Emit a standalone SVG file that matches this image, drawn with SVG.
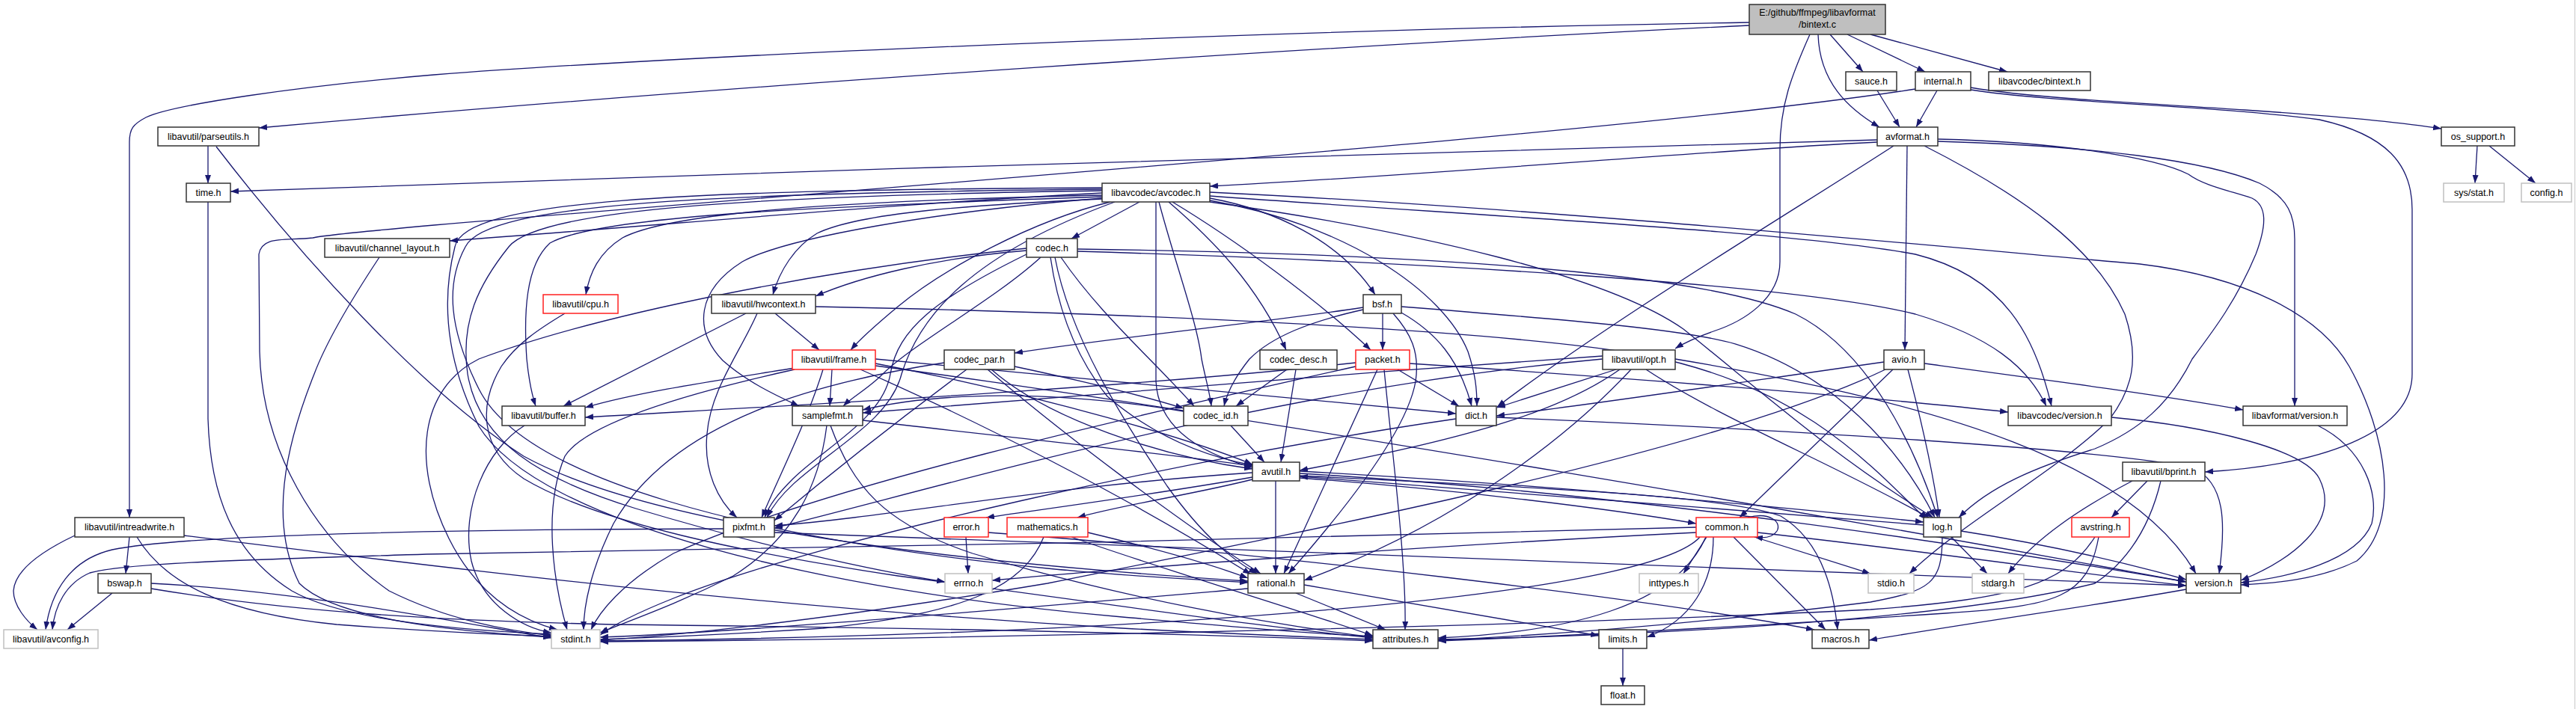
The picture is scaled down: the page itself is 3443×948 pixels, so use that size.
<svg xmlns="http://www.w3.org/2000/svg" width="3443" height="948" viewBox="0 0 3443 948">
<style>
.n rect{fill:#fff;stroke:#333;stroke-width:1.5}
.n.red rect{stroke:#ff2020}
.n.gray rect{stroke:#c0c0c0}
.n.root rect{fill:#bfbfbf}
text{font-family:"Liberation Sans",Arial,sans-serif;font-size:12.5px;text-anchor:middle;fill:#000}
#edges path{fill:none;stroke:#191970;stroke-width:1.3;marker-end:url(#a)}
</style>
<defs><marker id="a" markerUnits="userSpaceOnUse" markerWidth="12" markerHeight="9" refX="11" refY="4" orient="auto"><path d="M0,0 L11,4 L0,8 z" fill="#191970"/></marker></defs>
<rect width="3443" height="948" fill="#fff"/>
<line x1="3441.5" y1="0" x2="3441.5" y2="948" stroke="#c8c8c8"/>
<g id="edges">
<path d="M2338,30 C1700,40 900,75 580,100 C400,115 230,140 195,157 C178,166 173,172 173,190 L173,692"/>
<path d="M2338,34 C1800,60 1000,112 346,171"/>
<path d="M2419,46 C2395,100 2379,140 2379,200 L2379,350 C2379,400 2330,430 2290,443 C2270,450 2252,458 2239,466"/>
<path d="M2430,46 C2432,110 2470,145 2512,170"/>
<path d="M2446,46 L2490,96"/>
<path d="M2469,46 L2573,96"/>
<path d="M2500,46 L2683,96"/>
<path d="M2509,121 L2539,170"/>
<path d="M2589,121 L2561,170"/>
<path d="M2634,117 C2720,132 2900,140 3000,147 C3120,155 3200,162 3263,172"/>
<path d="M2634,120 C2750,138 2950,140 3100,160 C3190,180 3224,220 3224,280 L3224,500 C3224,580 3100,622 2947,631"/>
<path d="M2560,119 C2200,175 1300,240 580,301 C480,310 430,315 418,318 C380,322 350,315 346,340 L347,470 C350,600 420,720 520,790 C600,830 680,843 737,850"/>
<path d="M278,195 L278,245"/>
<path d="M289,196 C400,340 560,520 700,610 C900,720 1400,760 1668,777"/>
<path d="M278,270 L278,560 C281,660 310,740 390,790 C460,830 620,843 737,848"/>
<path d="M2509,187 C2000,200 1000,230 308,256"/>
<path d="M2509,190 C2300,200 1900,235 1617,249"/>
<path d="M2549,195 L2546,468"/>
<path d="M2531,195 C2400,280 2150,430 2001,544"/>
<path d="M2572,195 C2700,260 2800,330 2840,420 C2860,480 2850,520 2820,560 C2750,630 2620,700 2552,767"/>
<path d="M2590,186 C2750,190 2880,210 2925,233 C2945,248 2980,255 3010,265 C3030,275 3030,300 3015,340 C2990,400 2960,440 2930,480 C2900,540 2860,575 2800,600 C2720,625 2660,650 2618,692"/>
<path d="M2590,189 C2800,195 2950,215 3020,245 C3060,265 3067,290 3067,320 L3067,543"/>
<path d="M3311,195 L3308,245"/>
<path d="M3327,195 L3389,245"/>
<path d="M1473,258 C1200,272 900,300 601,322"/>
<path d="M1473,261 C1150,268 900,282 832,318 C800,338 788,365 783,394"/>
<path d="M1473,266 C1300,274 1150,284 1092,312 C1062,330 1042,362 1033,394"/>
<path d="M1484,270 C1380,295 1260,360 1200,410 C1170,435 1148,455 1137,468"/>
<path d="M1473,263 C1100,276 800,288 735,325 C702,355 700,420 704,480 C707,510 711,528 716,543"/>
<path d="M1473,265 C1250,283 1050,318 992,350 C932,388 926,440 966,482 C1000,512 1040,530 1068,543"/>
<path d="M1490,270 C1300,340 1230,420 1205,500 C1185,580 1060,620 1025,692"/>
<path d="M1523,270 L1432,319"/>
<path d="M1545,270 L1545,510 C1548,570 1600,605 1674,625"/>
<path d="M1549,270 C1570,350 1600,430 1606,480 C1612,510 1617,525 1619,543"/>
<path d="M1562,270 C1620,320 1680,380 1719,468"/>
<path d="M1567,270 C1650,320 1760,400 1832,468"/>
<path d="M1617,265 C1700,280 1790,320 1838,394"/>
<path d="M1617,268 C1800,300 1930,390 1962,470 C1972,500 1974,520 1974,543"/>
<path d="M1617,270 C1900,310 2150,370 2250,440 C2350,520 2450,610 2584,692"/>
<path d="M1617,262 C2000,290 2400,310 2560,340 C2680,370 2720,450 2742,543"/>
<path d="M1617,257 C2100,280 2700,340 2860,353 C3000,370 3100,420 3140,490 C3190,580 3210,700 3150,750 C3100,775 3040,780 2995,782"/>
<path d="M1473,255 C1000,262 720,280 680,330 C640,380 615,430 625,500 C640,590 720,640 850,680 C1000,725 1150,760 1263,778"/>
<path d="M1473,253 C950,258 650,272 622,330 C595,380 600,440 640,520 C700,640 1000,720 1400,760 C1500,770 1600,775 1668,779"/>
<path d="M1473,251 C900,254 620,268 608,330 C590,400 595,480 640,570 C720,700 1100,790 1500,825 C1650,838 1760,848 1835,851"/>
<path d="M507,344 C470,400 435,460 420,500 C380,600 360,700 400,780 C450,830 620,845 737,852"/>
<path d="M1372,335 C1250,345 1150,370 1090,396"/>
<path d="M1372,332 C1100,360 800,420 640,480 C560,520 550,620 600,720 C640,800 700,830 745,842"/>
<path d="M1372,340 C1250,400 1200,440 1190,500 C1180,560 1100,600 1060,640 C1040,660 1028,675 1022,692"/>
<path d="M1391,344 C1330,400 1220,460 1180,500 C1160,520 1140,530 1127,543"/>
<path d="M1404,344 C1415,420 1440,480 1480,530 C1550,590 1620,612 1674,622"/>
<path d="M1410,344 C1430,450 1500,560 1560,650 C1610,720 1650,750 1680,767"/>
<path d="M1418,344 C1470,420 1540,480 1596,543"/>
<path d="M1440,333 C1800,338 2250,355 2400,420 C2500,470 2560,600 2590,692"/>
<path d="M1440,336 C1900,350 2400,380 2560,420 C2660,450 2710,490 2735,543"/>
<path d="M755,419 C720,440 690,460 670,490 C640,540 640,600 700,640 C800,700 1000,740 1200,770 C1500,810 1700,840 1835,853"/>
<path d="M997,419 L753,543"/>
<path d="M1036,419 L1095,468"/>
<path d="M1012,419 C990,470 950,520 945,580 C940,630 960,670 985,692"/>
<path d="M1090,410 C1500,418 2000,440 2200,475 C2400,515 2490,610 2575,695"/>
<path d="M1848,419 L1848,468"/>
<path d="M1822,411 C1700,430 1500,450 1356,472"/>
<path d="M1822,414 C1750,430 1700,450 1670,480 C1650,505 1640,525 1636,543"/>
<path d="M1873,418 C1920,445 1950,480 1967,543"/>
<path d="M1862,419 C1885,445 1898,470 1892,510 C1880,580 1790,690 1722,767"/>
<path d="M1873,410 C2100,428 2250,440 2320,460 C2450,500 2540,600 2586,692"/>
<path d="M1062,492 C950,510 850,525 782,545"/>
<path d="M1062,494 C900,530 780,570 755,610 C725,680 740,780 758,842"/>
<path d="M1112,494 L1109,543"/>
<path d="M1100,494 C1080,560 1040,640 1018,692"/>
<path d="M1170,486 C1400,530 1600,590 1674,621"/>
<path d="M1170,480 C1500,510 1800,540 1946,553"/>
<path d="M1150,494 C1300,560 1500,660 1672,768"/>
<path d="M1170,489 C1700,560 2500,700 2922,778"/>
<path d="M1356,490 C1450,510 1530,530 1582,546"/>
<path d="M1325,494 C1400,560 1550,610 1674,627"/>
<path d="M1320,494 C1420,580 1580,700 1685,767"/>
<path d="M1292,494 C1230,540 1150,600 1035,696"/>
<path d="M1262,485 C1100,510 900,560 820,700 C790,760 780,810 780,842"/>
<path d="M1720,494 L1652,543"/>
<path d="M1732,494 L1712,618"/>
<path d="M1868,494 L1950,543"/>
<path d="M1850,494 C1860,600 1880,750 1878,842"/>
<path d="M1841,494 L1716,767"/>
<path d="M1812,485 C1500,520 1000,545 782,558"/>
<path d="M1812,490 C1500,560 1100,650 900,740 C830,780 800,820 790,842"/>
<path d="M1884,486 C2100,500 2500,530 2684,551"/>
<path d="M2160,494 L2001,545"/>
<path d="M2165,494 C2100,540 2000,580 1737,629"/>
<path d="M2180,494 C2100,580 1950,700 1743,776"/>
<path d="M2142,480 C1700,520 1300,640 1035,706"/>
<path d="M2142,476 C1800,500 1400,530 1153,552"/>
<path d="M2200,494 C2300,560 2450,620 2578,692"/>
<path d="M2239,480 C2600,540 2850,620 2935,767"/>
<path d="M2530,494 L2325,692"/>
<path d="M2518,484 C2300,515 2100,545 2000,556"/>
<path d="M2550,494 C2570,570 2585,640 2592,692"/>
<path d="M2572,486 C2750,510 2900,530 2998,548"/>
<path d="M2520,494 C2300,600 1800,700 1400,780 C1100,830 900,850 802,856"/>
<path d="M701,569 C650,600 615,680 630,750 C645,810 700,840 737,846"/>
<path d="M1105,569 C1095,650 1060,720 980,770 C900,810 840,830 802,846"/>
<path d="M1153,562 C1350,585 1550,605 1674,623"/>
<path d="M1110,569 C1140,650 1180,700 1300,740 C1500,800 1700,835 1835,852"/>
<path d="M1645,569 L1690,618"/>
<path d="M1582,550 C1400,520 1250,525 1153,548"/>
<path d="M1946,560 C1600,610 1100,720 900,800 C850,820 820,835 802,849"/>
<path d="M2000,558 C2400,575 2800,600 2930,625 C2975,645 2975,700 2966,767"/>
<path d="M2822,558 C2950,570 3080,600 3100,640 C3130,700 3060,750 2995,776"/>
<path d="M3098,569 C3160,600 3180,660 3170,700 C3150,750 3060,772 2995,779"/>
<path d="M1737,639 C1950,655 2150,680 2267,700"/>
<path d="M1674,638 C1550,660 1400,680 1318,692"/>
<path d="M1674,641 C1600,660 1500,675 1440,692"/>
<path d="M1705,643 L1705,767"/>
<path d="M1737,633 C2200,660 2700,740 2922,778"/>
<path d="M1737,636 C2000,650 2300,660 2380,690 C2430,720 2450,780 2456,842"/>
<path d="M1737,630 C2100,650 2400,680 2571,698"/>
<path d="M1674,632 C1400,650 1200,690 1035,703"/>
<path d="M2870,643 L2822,692"/>
<path d="M2850,643 C2780,680 2720,720 2684,767"/>
<path d="M2888,643 C2870,720 2830,760 2800,780 C2600,830 2200,850 1922,855"/>
<path d="M173,718 L168,767"/>
<path d="M100,716 C60,735 20,760 18,790 C18,810 35,830 50,842"/>
<path d="M183,718 C220,780 300,820 450,835 C580,845 680,849 737,851"/>
<path d="M246,716 C600,760 1000,810 1500,840 C1650,848 1760,852 1835,855"/>
<path d="M967,707 C600,708 250,715 150,735 C95,748 68,790 61,842"/>
<path d="M1035,712 C1600,730 2500,770 2922,783"/>
<path d="M1291,718 L1294,767"/>
<path d="M1321,712 C1700,740 2200,800 2425,842"/>
<path d="M1395,718 C1370,780 1300,820 1100,840 C950,850 850,853 802,855"/>
<path d="M1432,718 C1550,760 1750,820 1835,850"/>
<path d="M1454,712 C1550,735 1620,755 1668,773"/>
<path d="M2336,692 C2365,684 2382,698 2375,710 C2370,718 2358,720 2345,718"/>
<path d="M2267,712 C1900,730 1500,760 1326,776"/>
<path d="M2281,718 L2250,767"/>
<path d="M2345,718 L2500,767"/>
<path d="M2290,718 C2290,780 2260,830 2201,852"/>
<path d="M2272,718 C2200,800 1500,850 802,857"/>
<path d="M2280,718 C2240,810 2100,845 1922,853"/>
<path d="M2317,718 L2440,842"/>
<path d="M2349,712 C2600,740 2800,770 2922,783"/>
<path d="M2267,705 C1800,720 1000,735 570,741 C350,748 170,752 120,766 C88,780 73,810 70,842"/>
<path d="M2571,702 C2300,680 1900,650 1737,637"/>
<path d="M2596,718 C2596,780 2580,790 2500,805 C2300,830 2100,848 1922,856"/>
<path d="M2621,710 C2750,730 2850,755 2922,775"/>
<path d="M2608,718 L2656,767"/>
<path d="M2800,718 C2760,780 2700,800 2500,815 C2000,840 1200,855 802,858"/>
<path d="M2805,718 C2790,800 2750,810 2600,820 C2300,840 2100,850 1922,857"/>
<path d="M150,793 L90,842"/>
<path d="M202,780 C400,790 600,830 737,853"/>
<path d="M202,787 C400,820 600,830 820,835 C1300,840 1600,848 1835,857"/>
<path d="M1668,787 C1400,810 1000,845 802,852"/>
<path d="M1743,782 C1900,810 2050,835 2137,850"/>
<path d="M1732,793 L1852,842"/>
<path d="M2922,788 C2800,810 2650,830 2498,856"/>
<path d="M2169,867 L2169,917"/>
</g>
<g id="n_bintext" class="n root"><rect x="2338" y="6" width="182" height="40"/><text x="2429" y="21">E:/github/ffmpeg/libavformat</text><text x="2429" y="37">/bintext.c</text></g>
<g id="n_sauce" class="n"><rect x="2467" y="96" width="68" height="25"/><text x="2501" y="113">sauce.h</text></g>
<g id="n_internal" class="n"><rect x="2560" y="96" width="74" height="25"/><text x="2597" y="113">internal.h</text></g>
<g id="n_bintexth" class="n"><rect x="2658" y="96" width="136" height="25"/><text x="2726" y="113">libavcodec/bintext.h</text></g>
<g id="n_parseutils" class="n"><rect x="211" y="170" width="135" height="25"/><text x="278.5" y="187">libavutil/parseutils.h</text></g>
<g id="n_avformat" class="n"><rect x="2509" y="170" width="81" height="25"/><text x="2549.5" y="187">avformat.h</text></g>
<g id="n_os_support" class="n"><rect x="3263" y="170" width="98" height="25"/><text x="3312" y="187">os_support.h</text></g>
<g id="n_time" class="n"><rect x="249" y="245" width="59" height="25"/><text x="278.5" y="262">time.h</text></g>
<g id="n_avcodec" class="n"><rect x="1473" y="245" width="144" height="25"/><text x="1545" y="262">libavcodec/avcodec.h</text></g>
<g id="n_sysstat" class="n gray"><rect x="3266" y="245" width="81" height="25"/><text x="3306.5" y="262">sys/stat.h</text></g>
<g id="n_config" class="n gray"><rect x="3370" y="245" width="67" height="25"/><text x="3403.5" y="262">config.h</text></g>
<g id="n_channel_layout" class="n"><rect x="434" y="319" width="167" height="25"/><text x="517.5" y="336">libavutil/channel_layout.h</text></g>
<g id="n_codec" class="n"><rect x="1372" y="319" width="68" height="25"/><text x="1406" y="336">codec.h</text></g>
<g id="n_cpu" class="n red"><rect x="726" y="394" width="100" height="25"/><text x="776" y="411">libavutil/cpu.h</text></g>
<g id="n_hwcontext" class="n"><rect x="951" y="394" width="139" height="25"/><text x="1020.5" y="411">libavutil/hwcontext.h</text></g>
<g id="n_bsf" class="n"><rect x="1822" y="394" width="51" height="25"/><text x="1847.5" y="411">bsf.h</text></g>
<g id="n_frame" class="n red"><rect x="1059" y="468" width="111" height="26"/><text x="1114.5" y="485">libavutil/frame.h</text></g>
<g id="n_codec_par" class="n"><rect x="1262" y="468" width="94" height="26"/><text x="1309" y="485">codec_par.h</text></g>
<g id="n_codec_desc" class="n"><rect x="1684" y="468" width="103" height="26"/><text x="1735.5" y="485">codec_desc.h</text></g>
<g id="n_packet" class="n red"><rect x="1812" y="468" width="72" height="26"/><text x="1848" y="485">packet.h</text></g>
<g id="n_opt" class="n"><rect x="2142" y="468" width="97" height="26"/><text x="2190.5" y="485">libavutil/opt.h</text></g>
<g id="n_avio" class="n"><rect x="2518" y="468" width="54" height="26"/><text x="2545" y="485">avio.h</text></g>
<g id="n_buffer" class="n"><rect x="671" y="543" width="111" height="26"/><text x="726.5" y="560">libavutil/buffer.h</text></g>
<g id="n_samplefmt" class="n"><rect x="1059" y="543" width="94" height="26"/><text x="1106" y="560">samplefmt.h</text></g>
<g id="n_codec_id" class="n"><rect x="1582" y="543" width="86" height="26"/><text x="1625" y="560">codec_id.h</text></g>
<g id="n_dict" class="n"><rect x="1946" y="543" width="54" height="26"/><text x="1973" y="560">dict.h</text></g>
<g id="n_lavc_version" class="n"><rect x="2684" y="543" width="138" height="26"/><text x="2753" y="560">libavcodec/version.h</text></g>
<g id="n_lavf_version" class="n"><rect x="2998" y="543" width="139" height="26"/><text x="3067.5" y="560">libavformat/version.h</text></g>
<g id="n_avutil" class="n"><rect x="1674" y="618" width="63" height="25"/><text x="1705.5" y="635">avutil.h</text></g>
<g id="n_bprint" class="n"><rect x="2837" y="618" width="110" height="25"/><text x="2892" y="635">libavutil/bprint.h</text></g>
<g id="n_intreadwrite" class="n"><rect x="100" y="692" width="146" height="26"/><text x="173" y="709">libavutil/intreadwrite.h</text></g>
<g id="n_pixfmt" class="n"><rect x="967" y="692" width="68" height="26"/><text x="1001" y="709">pixfmt.h</text></g>
<g id="n_error" class="n red"><rect x="1262" y="692" width="59" height="26"/><text x="1291.5" y="709">error.h</text></g>
<g id="n_mathematics" class="n red"><rect x="1346" y="692" width="108" height="26"/><text x="1400" y="709">mathematics.h</text></g>
<g id="n_common" class="n red"><rect x="2267" y="692" width="82" height="26"/><text x="2308" y="709">common.h</text></g>
<g id="n_log" class="n"><rect x="2571" y="692" width="50" height="26"/><text x="2596" y="709">log.h</text></g>
<g id="n_avstring" class="n red"><rect x="2769" y="692" width="77" height="26"/><text x="2807.5" y="709">avstring.h</text></g>
<g id="n_bswap" class="n"><rect x="131" y="767" width="71" height="26"/><text x="166.5" y="784">bswap.h</text></g>
<g id="n_errno" class="n gray"><rect x="1263" y="767" width="63" height="26"/><text x="1294.5" y="784">errno.h</text></g>
<g id="n_rational" class="n"><rect x="1668" y="767" width="75" height="26"/><text x="1705.5" y="784">rational.h</text></g>
<g id="n_inttypes" class="n gray"><rect x="2191" y="767" width="79" height="26"/><text x="2230.5" y="784">inttypes.h</text></g>
<g id="n_stdio" class="n gray"><rect x="2497" y="767" width="61" height="26"/><text x="2527.5" y="784">stdio.h</text></g>
<g id="n_stdarg" class="n gray"><rect x="2636" y="767" width="69" height="26"/><text x="2670.5" y="784">stdarg.h</text></g>
<g id="n_version" class="n"><rect x="2922" y="767" width="73" height="26"/><text x="2958.5" y="784">version.h</text></g>
<g id="n_avconfig" class="n gray"><rect x="5" y="842" width="126" height="25"/><text x="68" y="859">libavutil/avconfig.h</text></g>
<g id="n_stdint" class="n gray"><rect x="737" y="842" width="65" height="25"/><text x="769.5" y="859">stdint.h</text></g>
<g id="n_attributes" class="n"><rect x="1835" y="842" width="87" height="25"/><text x="1878.5" y="859">attributes.h</text></g>
<g id="n_macros" class="n"><rect x="2422" y="842" width="76" height="25"/><text x="2460" y="859">macros.h</text></g>
<g id="n_limits" class="n"><rect x="2137" y="842" width="64" height="25"/><text x="2169" y="859">limits.h</text></g>
<g id="n_float" class="n"><rect x="2140" y="917" width="58" height="25"/><text x="2169" y="934">float.h</text></g>
</svg>
